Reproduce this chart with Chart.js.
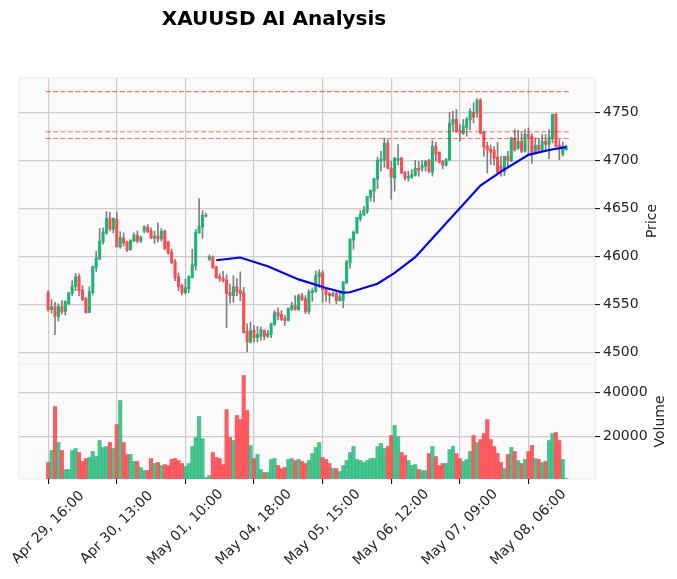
<!DOCTYPE html>
<html>
<head>
<meta charset="utf-8">
<title>XAUUSD AI Analysis</title>
<script src="https://cdn.jsdelivr.net/npm/chart.js@4"></script>
<style>
  body { margin: 0; background: #fff; }
  canvas { display: block; }
</style>
</head>
<body>
<canvas id="myChart" width="677" height="579"></canvas>
<script>
const opens = [
  4562.4, 4544.8, 4547.9, 4537.6, 4547.9, 4542.8, 4551, 4561.4, 4568.6, 4579,
  4565.5, 4556.2, 4541.7, 4562.4, 4588.3, 4597.6, 4615.2, 4624.1, 4640, 4628.6,
  4639, 4610, 4619.3, 4615.2, 4606.9, 4616.2, 4622.4, 4616.2, 4626.6, 4630.7,
  4626.6, 4619.3, 4621.4, 4618.3, 4626.6, 4615.2, 4604.8, 4594.5, 4579, 4569.7,
  4562.4, 4566.6, 4577.9, 4590.3, 4624.5, 4630.7, 4642.4, 4597.2, 4599.7, 4589.3,
  4579, 4577.9, 4575.9, 4562.4, 4559.3, 4568.6, 4564.5, 4562.4, 4522.1, 4511,
  4523.1, 4515.5, 4516.9, 4523.1, 4516.9, 4519, 4529.3, 4541.7, 4539.7, 4535.5,
  4533.4, 4544.8, 4549, 4544.8, 4559.3, 4556.2, 4542.8, 4562.4, 4563.4, 4579,
  4583.1, 4565.5, 4561.4, 4559.3, 4561.4, 4554.1, 4554.1, 4572.8, 4593.4, 4617.2,
  4624.5, 4639, 4643.1, 4647.2, 4661.8, 4668.1, 4680.6, 4699.3, 4700.3, 4718.1,
  4692, 4681.6, 4700.7, 4702.4, 4687.8, 4681.6, 4682.6, 4684.7, 4692, 4692,
  4694.1, 4700.3, 4687.8, 4714.9, 4708.7, 4699.3, 4695.1, 4700.3, 4737.8, 4743.1,
  4731.6, 4728.5, 4734.7, 4742.4, 4750.3, 4749.3, 4762.8, 4729.5, 4714.9, 4711.8,
  4710.8, 4703.5, 4694.1, 4688.9, 4704.5, 4699.3, 4723.3, 4712.8, 4720.1, 4709.7,
  4727.1, 4725.3, 4709, 4716, 4710.8, 4720.1, 4717, 4723.6, 4748.3, 4716,
  4706.6, 4711.1
]
const highs = [
  4564.5, 4555.2, 4552.4, 4550.7, 4554.1, 4554.1, 4562.4, 4574.8, 4582.4, 4581.7,
  4569.7, 4557.6, 4568.6, 4590.3, 4605.5, 4629.3, 4630, 4646.9, 4646.2, 4640,
  4646.2, 4625.9, 4624.8, 4616.2, 4617.2, 4624.8, 4626.6, 4621.4, 4632.4, 4633.4,
  4630, 4626.6, 4635.2, 4629.3, 4627.6, 4616.2, 4607.6, 4597.2, 4583.1, 4571.4,
  4576.6, 4580, 4607.6, 4628.3, 4660.3, 4647.9, 4645.2, 4601.7, 4600.7, 4590.3,
  4582, 4584.5, 4581, 4571.4, 4580, 4577.2, 4584.1, 4567.9, 4530, 4531.7,
  4528.3, 4527.2, 4526.6, 4523.8, 4523.1, 4530.7, 4543.8, 4546.6, 4543.8, 4538.6,
  4546.6, 4552.4, 4559.3, 4561, 4561.7, 4559.3, 4565.5, 4567.2, 4585.2, 4586.2,
  4585.2, 4567.2, 4562.8, 4562.8, 4562.8, 4562.8, 4573.8, 4596.2, 4618.3, 4626.6,
  4641, 4647.9, 4652.4, 4662.8, 4669.1, 4681.6, 4703.5, 4709.7, 4723.3, 4721.2,
  4699.3, 4703.5, 4716.7, 4703.5, 4688.9, 4688.9, 4690.6, 4700, 4699.3, 4700.3,
  4700, 4701.4, 4720.8, 4719.1, 4709, 4700, 4702.1, 4750.3, 4751.4, 4753.1,
  4737.5, 4742.7, 4745.1, 4754.2, 4760.1, 4764.6, 4764.6, 4730.6, 4719.1, 4716,
  4714.6, 4719.1, 4704.5, 4704.5, 4709.7, 4724.3, 4732.3, 4731.6, 4728.8, 4732.3,
  4734, 4727.8, 4723.6, 4722.9, 4727.1, 4727.1, 4732.3, 4748.3, 4749, 4721.9,
  4719.1, 4716
]
const lows = [
  4543.1, 4541.4, 4518.6, 4532.8, 4540.3, 4539, 4549.7, 4559.3, 4564.5, 4559.3,
  4554.1, 4541, 4541.7, 4560, 4584.5, 4596.6, 4612.8, 4623.1, 4626.6, 4624.8,
  4610, 4608.6, 4611, 4605.2, 4606.9, 4615.5, 4614.1, 4614.5, 4624.8, 4624.8,
  4618.6, 4613.8, 4615.2, 4616.2, 4607.6, 4602.4, 4592.8, 4574.8, 4564.5, 4560,
  4561, 4562.4, 4577.9, 4585.9, 4624.5, 4619, 4641, 4595.5, 4587.6, 4577.2,
  4574.1, 4573.4, 4525.9, 4551.7, 4552.4, 4559.3, 4554.1, 4520.3, 4500.7, 4510,
  4511, 4511, 4512.8, 4513.4, 4515.5, 4515.5, 4528.3, 4534.1, 4533.4, 4528.3,
  4532.8, 4543.8, 4543.8, 4543.8, 4554.1, 4540.3, 4540.3, 4553.4, 4562.8, 4567.9,
  4552.4, 4553.4, 4551.4, 4558.3, 4550.7, 4553.4, 4546.6, 4571.4, 4587.9, 4607.6,
  4623.8, 4636.9, 4643.1, 4644.8, 4657.6, 4656.9, 4670.8, 4688.9, 4693.1, 4691.3,
  4659.7, 4668.1, 4695.8, 4686.8, 4679.5, 4678.5, 4681.3, 4683.7, 4683.7, 4688.9,
  4688.9, 4687.2, 4683.7, 4699.3, 4697.6, 4691.3, 4694.1, 4700.3, 4730.6, 4729.5,
  4720.1, 4727.1, 4725.3, 4732.3, 4739.2, 4745.1, 4727.8, 4704.5, 4687.2, 4695.8,
  4695.1, 4687.2, 4683.7, 4684.4, 4694.1, 4699.3, 4709.7, 4711.5, 4708, 4708.7,
  4706.3, 4696.9, 4708, 4709.7, 4709.7, 4709.7, 4702.1, 4718.4, 4713.9, 4701,
  4704.5, 4710.8
]
const closes = [
  4544.5, 4547.9, 4537.6, 4547.9, 4542.8, 4553.1, 4562.4, 4569.3, 4579, 4564.5,
  4555.2, 4541.7, 4563.4, 4589.3, 4598.6, 4616.2, 4625.5, 4640, 4628.6, 4640,
  4610, 4620.3, 4614.1, 4606.9, 4617.2, 4622.4, 4616.2, 4620.3, 4630.7, 4625.9,
  4619.3, 4621.4, 4618.3, 4626.6, 4607.9, 4603.8, 4593.4, 4577.9, 4568.6, 4562.4,
  4567.6, 4579, 4591.4, 4625.5, 4631.7, 4643.1, 4643.1, 4600.3, 4588.3, 4577.9,
  4576.9, 4574.8, 4561.7, 4559.3, 4568.6, 4563.4, 4561.4, 4521, 4511, 4523.1,
  4515.5, 4519, 4524.1, 4516.9, 4520, 4530, 4541.7, 4538.6, 4534.5, 4533.4,
  4545.9, 4549, 4544.8, 4559.3, 4555.2, 4542.8, 4563.4, 4564.5, 4580, 4583.1,
  4565.5, 4560.3, 4559.3, 4561.4, 4554.1, 4558.3, 4573.8, 4594.5, 4618.3, 4625.5,
  4641, 4644.1, 4648.3, 4662.8, 4669.1, 4681.6, 4700.3, 4701.4, 4718.1, 4692,
  4682.6, 4702.4, 4702.4, 4686.8, 4681.6, 4683.7, 4685.8, 4692, 4689.9, 4695.1,
  4699.3, 4688.9, 4714.9, 4706.6, 4698.3, 4695.5, 4701.4, 4738.9, 4743.1, 4730.6,
  4728.8, 4735.8, 4743.1, 4751.4, 4745.1, 4762.8, 4728.5, 4713.9, 4710.8, 4708.7,
  4702.4, 4687.8, 4688.9, 4704.5, 4700.3, 4723.3, 4710.8, 4720.1, 4709.7, 4727.4,
  4724.3, 4707.6, 4716, 4710.8, 4720.1, 4717, 4724.3, 4748.3, 4714.9, 4712.8,
  4714.9, 4714.9
]
const volumes = [
  8335, 13790, 33790, 17425, 13790, 5150, 5150, 13790, 14700, 12880,
  8790, 10150, 10600, 13330, 11060, 18330, 15150, 15600, 17425, 14700,
  25600, 36500, 17425, 11970, 11970, 8790, 8790, 6060, 4700, 4700,
  10150, 7880, 8335, 6970, 7425, 6970, 9700, 10150, 9240, 7880,
  6520, 7880, 15600, 19700, 29240, 19240, 1520, 2420, 12880, 10600,
  10150, 7425, 32420, 19700, 18330, 29700, 27880, 47880, 31970, 16060,
  10150, 11970, 5150, 3790, 3790, 9700, 10150, 6970, 5600, 6060,
  9700, 10150, 9240, 9700, 8790, 7880, 9240, 12420, 15150, 17425,
  10600, 9700, 7880, 5600, 5600, 4240, 6970, 9240, 12880, 15600,
  9700, 9240, 8335, 9240, 10150, 10150, 15600, 16970, 14700, 15600,
  20600, 25150, 20150, 12880, 11520, 9240, 6970, 7425, 5150, 4700,
  4700, 12420, 15600, 11060, 6970, 7880, 7880, 14245, 15600, 12420,
  10150, 8790, 9700, 13330, 20600, 17425, 18790, 21500, 27880, 18790,
  15600, 12420, 8335, 5600, 11970, 15150, 13330, 9240, 7880, 9700,
  13330, 16060, 10150, 9700, 8335, 8790, 18330, 21500, 21970, 18330,
  9700, 1060
]
// blue line only bends at these candles
const lineIndex = [49, 56, 64, 73, 81, 86, 88, 96, 101, 107, 126, 132, 140, 146, 151]
const lineValues = [4596.2, 4599, 4590, 4576.2, 4567.2, 4562.4, 4562.8, 4571.7, 4583, 4599.3, 4674, 4688.5, 4706, 4711, 4714]
const levels = [4771.9, 4730, 4723]
const levelSpan = [-0.7, 152.3]
const tickIndex = [0, 20, 40, 60, 80, 100, 120, 140]
const tickLabels = ['Apr 29, 16:00', 'Apr 30, 13:00', 'May 01, 10:00', 'May 04, 18:00', 'May 05, 15:00', 'May 06, 12:00', 'May 07, 09:00', 'May 08, 06:00']
const priceTicks = [4500, 4550, 4600, 4650, 4700, 4750]
const volumeTicks = [20000, 40000]

const GREEN = '#1cb674'
const RED = '#ff4a50'
const isUp = (i) => closes[i] >= opens[i]
const candleColors = opens.map((o, i) => isUp(i) ? GREEN : RED)
const volumeColors = opens.map((o, i) => isUp(i) ? 'rgba(28,182,116,0.8)' : 'rgba(255,74,80,0.9)')

const FONT = 'DejaVu Sans'
Chart.defaults.font.family = FONT
Chart.defaults.font.size = 14
Chart.defaults.color = '#262626'

function setTicks(values) {
  return (axis) => { axis.ticks = values.map((value) => ({ value })) }
}
function fixWidth(axis) {
  axis.width = 82
  axis.paddingTop = 0
  axis.paddingBottom = 0
}
function fixHeight(axis) {
  axis.height = 100
  axis.paddingLeft = 0
  axis.paddingRight = 0
}
function levelLine(y) {
  return {
    type: 'line',
    data: levelSpan.map((x) => ({ x, y })),
    yAxisID: 'price',
    borderColor: 'rgba(255,0,0,0.55)',
    borderWidth: 1.2,
    borderDash: [5, 2.4],
    pointRadius: 0,
    order: 1
  }
}

const panelPlugin = {
  id: 'panel',
  beforeDraw(chart) {
    const { ctx, chartArea: a } = chart
    ctx.save()
    ctx.fillStyle = '#fafafa'
    ctx.fillRect(a.left, a.top, a.right - a.left, a.bottom - a.top)
    ctx.strokeStyle = '#ececec'
    ctx.lineWidth = 1
    ctx.strokeRect(a.left, a.top, a.right - a.left, a.bottom - a.top)
    ctx.beginPath()
    ctx.moveTo(a.left, chart.scales.price.bottom)
    ctx.lineTo(a.right, chart.scales.price.bottom)
    ctx.stroke()
    ctx.restore()
  },
  // mplfinance centres rotated labels on the tick, Chart.js right aligns them
  afterLayout(chart) {
    const scale = chart.scales.x
    scale.getLabelItems().forEach((item, i) => {
      item.options.textAlign = 'center'
      item.options.textBaseline = 'middle'
      item.textOffset = 0
      item.options.translation[0] = scale.getPixelForValue(tickIndex[i])
      item.options.translation[1] = 527.5
    })
  },
  afterDraw(chart) {
    const { ctx, scales } = chart
    ctx.save()
    ctx.fillStyle = '#000'
    ctx.textAlign = 'center'
    ctx.textBaseline = 'middle'
    ctx.font = 'bold 20px "' + FONT + '"'
    ctx.fillText('XAUUSD AI Analysis', 274, 19.5)
    ctx.font = '14px "' + FONT + '"'
    ctx.fillStyle = '#262626'
    const side = (text, x, scale) => {
      ctx.save()
      ctx.translate(x, (scale.top + scale.bottom) / 2)
      ctx.rotate(-Math.PI / 2)
      ctx.fillText(text, 0, 0)
      ctx.restore()
    }
    side('Price', 652, scales.price)
    side('Volume', 660, scales.volume)
    ctx.restore()
  }
}

new Chart(document.getElementById('myChart'), {
  type: 'bar',
  plugins: [panelPlugin],
  data: {
    datasets: [
      levelLine(levels[0]),
      levelLine(levels[1]),
      levelLine(levels[2]),
      {
        type: 'line',
        data: lineIndex.map((x, i) => ({ x, y: lineValues[i] })),
        yAxisID: 'price',
        borderColor: '#0000ff',
        borderWidth: 2.2,
        pointRadius: 0,
        order: 0
      },
      {
        label: 'Wick',
        data: lows.map((l, i) => ({ x: i, y: [l, highs[i]] })),
        yAxisID: 'price',
        backgroundColor: '#808080',
        barThickness: 1,
        grouped: false,
        order: 4
      },
      {
        label: 'Body',
        data: opens.map((o, i) => ({ x: i, y: [o, closes[i]] })),
        yAxisID: 'price',
        backgroundColor: candleColors,
        barThickness: 2.4,
        grouped: false,
        order: 3
      },
      {
        label: 'Volume',
        data: volumes.map((v, i) => ({ x: i, y: v })),
        yAxisID: 'volume',
        backgroundColor: volumeColors,
        barThickness: 3.43,
        grouped: false,
        order: 3
      }
    ]
  },
  options: {
    responsive: false,
    animation: false,
    layout: { padding: { top: 78, left: 19, right: 0, bottom: 0 } },
    plugins: { legend: { display: false }, tooltip: { enabled: false }, title: { display: false } },
    scales: {
      x: {
        type: 'linear',
        offset: false,
        min: -8.5,
        max: 159.4,
        afterBuildTicks: setTicks(tickIndex),
        afterFit: fixHeight,
        border: { display: false },
        grid: { offset: false, color: '#cccccc', lineWidth: 1.2, tickColor: '#000', tickLength: 5, tickWidth: 1 },
        ticks: {
          autoSkip: false,
          minRotation: 45,
          maxRotation: 45,
          padding: 3,
          callback: (value) => tickLabels[tickIndex.indexOf(value)]
        }
      },
      price: {
        axis: 'y',
        type: 'linear',
        position: 'right',
        stack: 'panels',
        stackWeight: 286,
        min: 4488.1,
        max: 4786,
        afterBuildTicks: setTicks(priceTicks),
        afterFit: fixWidth,
        border: { display: false },
        grid: { color: '#cccccc', lineWidth: 1.2, tickColor: '#000', tickLength: 5, tickWidth: 1 },
        ticks: { padding: 3, callback: (value) => String(value) }
      },
      volume: {
        axis: 'y',
        type: 'linear',
        position: 'right',
        stack: 'panels',
        stackWeight: 115,
        min: 830,
        max: 53100,
        afterBuildTicks: setTicks(volumeTicks),
        afterFit: fixWidth,
        border: { display: false },
        grid: { color: '#cccccc', lineWidth: 1.2, tickColor: '#000', tickLength: 5, tickWidth: 1 },
        ticks: { padding: 3, callback: (value) => String(value) }
      }
    }
  }
})
</script>
</body>
</html>
